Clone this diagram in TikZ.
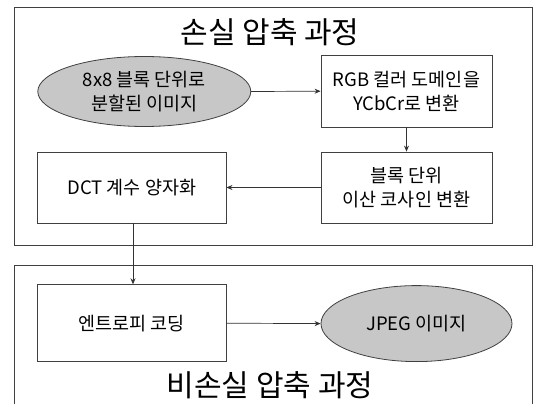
\documentclass[tikz,border=0pt]{standalone}
\usepackage{fontspec}
\setmainfont{Noto Sans CJK KR}
\usetikzlibrary{arrows.meta,shapes.geometric}
\begin{document}
\begin{tikzpicture}[x=1pt,y=-1pt,
  frame/.style={draw=black!75,line width=0.8pt},
  proc/.style={draw=black!75,line width=0.8pt,fill=white,align=center,font=\fontsize{18.5}{24}\selectfont,inner sep=0pt},
  term/.style={ellipse,draw=black!75,line width=0.8pt,fill=black!22,align=center,font=\fontsize{18.5}{24}\selectfont,inner sep=0pt},
  conn/.style={draw=black!80,line width=0.7pt,-{Stealth[length=6pt,width=5pt]}},
  title/.style={font=\fontsize{30}{34}\selectfont}]
\useasboundingbox (0,0) rectangle (536,404);
\fill[white] (0,0) rectangle (536,404);
% frames
\node[frame,minimum width=518pt,minimum height=237.5pt,anchor=north west,inner sep=0pt] (lossy) at (14.4,7.5) {};
\draw[frame] (14.4,410) -- (14.4,265.2) -- (532.6,265.2) -- (532.6,410);
\coordinate (lossless) at (270,265.2);
\node[title] (t1) at (270,32) {손실 압축 과정};
\node[title] (t2) at (270,385) {비손실 압축 과정};
% nodes
\node[term,minimum width=213pt,minimum height=70pt] (img) at (144.3,91.5) {8x8 블록 단위로\\분할된 이미지};
\node[proc,minimum width=171pt,minimum height=71.5pt] (rgb) at (406.5,91.2) {RGB 컬러 도메인을\\YCbCr로 변환};
\node[proc,minimum width=171pt,minimum height=71pt] (dct) at (406.5,187.5) {블록 단위\\이산 코사인 변환};
\node[proc,minimum width=188.5pt,minimum height=71pt] (q) at (131.8,187.5) {DCT 계수 양자화};
\node[proc,minimum width=188.5pt,minimum height=77pt] (ent) at (131.8,323.2) {엔트로피 코딩};
\node[term,minimum width=191pt,minimum height=76pt] (jpg) at (416.5,323.6) {JPEG 이미지};
% connectors
\draw[conn] (img.east) -- (rgb.west);
\draw[conn] (rgb.south) -- (dct.north);
\draw[conn] (dct.west) -- (q.east);
\draw[conn] (q.south -| 133,0) -- (ent.north -| 133,0);
\draw[conn] (ent.east) -- (jpg.west);
\end{tikzpicture}
\end{document}
